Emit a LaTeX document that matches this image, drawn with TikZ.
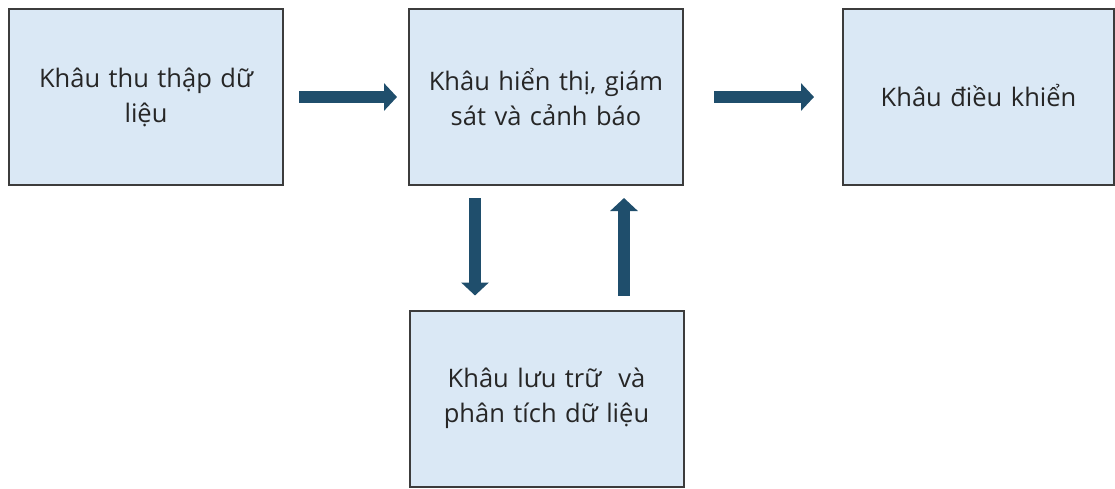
\documentclass[tikz,border=0pt]{standalone}
\usepackage{fontspec}
\setmainfont{Open Sans}
\usetikzlibrary{arrows.meta}
\definecolor{boxfill}{HTML}{DAE8F5}
\definecolor{boxline}{HTML}{3C3C3C}
\definecolor{flow}{HTML}{1F4E6C}
\definecolor{txt}{HTML}{262626}
\tikzset{
  stage/.style={draw=boxline, line width=2pt, fill=boxfill,
    minimum width=274pt, minimum height=176pt, inner sep=0pt,
    text width=266pt, align=center, text=txt,
    font=\fontsize{25.5}{35}\selectfont},
  flowarrow/.style={draw=flow, line width=12pt,
    -{Triangle[width=27pt,length=13pt]}},
}
\begin{document}
\begin{tikzpicture}[x=1pt,y=-1pt]
\useasboundingbox (0,0) rectangle (1115,488);
% process stages
\node[stage] (collect) at (146,97) {Khâu thu thập dữ\\liệu};
\node[stage] (monitor) at (546,97) {Khâu hiển thị, giám\\sát và cảnh báo};
\node[stage, minimum width=271pt] (control) at (978.5,97) {\raisebox{3pt}{Khâu điều khiển}};
\node[stage] (store) at (546.5,398.5) {Khâu lưu trữ~ và\\phân tích dữ liệu};
% flow between stages
\draw[flowarrow, shorten <=15pt, shorten >=11pt] (collect.east) -- (monitor.west);
\draw[flowarrow, shorten <=30pt, shorten >=28pt] (monitor.east) -- (control.west);
\draw[flowarrow, shorten <=12pt, shorten >=14pt]
  ([xshift=-71pt]monitor.south) -- ([xshift=-71.5pt]store.north);
\draw[flowarrow, shorten <=14pt, shorten >=12pt]
  ([xshift=77.5pt]store.north) -- ([xshift=78pt]monitor.south);
\end{tikzpicture}
\end{document}
